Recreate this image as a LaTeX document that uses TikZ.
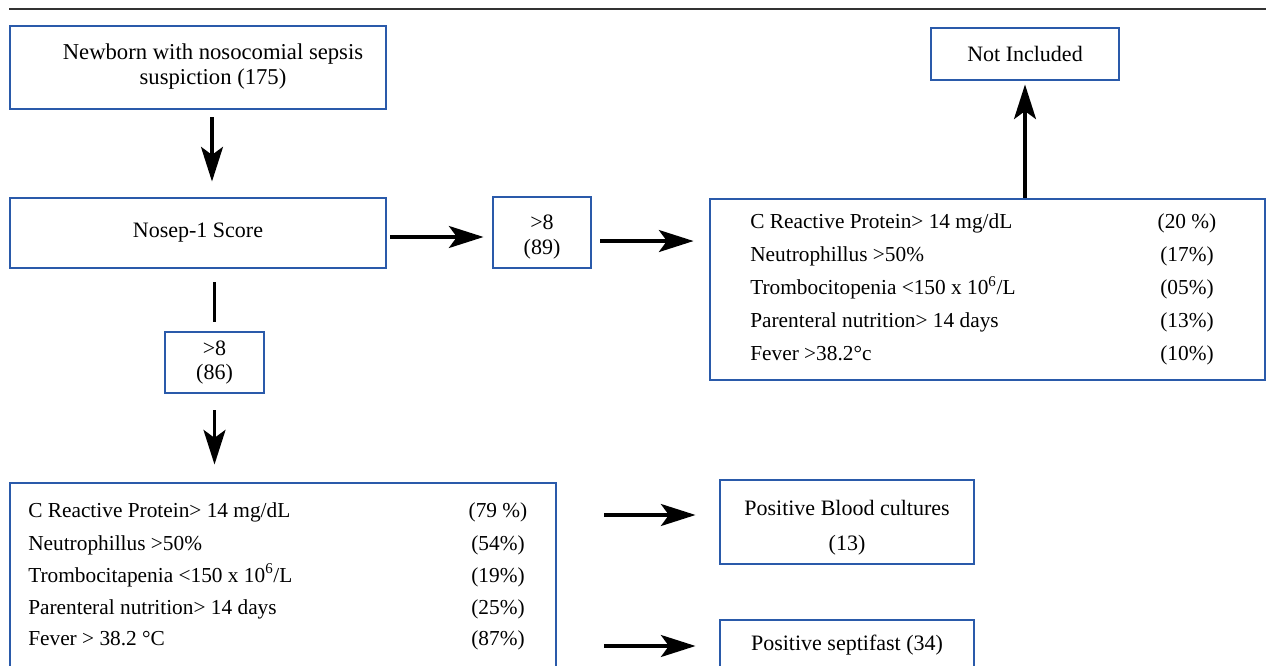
\documentclass[tikz,border=0pt]{standalone}
\usepackage{fontspec}
\setmainfont{Liberation Serif}
\usetikzlibrary{arrows.meta,calc}
\definecolor{boxblue}{RGB}{42,90,170}
\begin{document}
\begin{tikzpicture}[x=0.75pt, y=-0.75pt,
  box/.style={draw=boxblue, line width=2.2pt, inner sep=0pt, align=center,
    font=\fontsize{16.5}{18.5}\selectfont},
  row/.style={inner sep=0pt, font=\fontsize{16}{18}\selectfont},
  arr/.style={line width=2.3pt, -{Stealth[length=26pt, width=16.5pt, inset=6pt]}}]
  \useasboundingbox (0, 0) rectangle (1266, 666);
  \clip (0, 0) rectangle (1266, 666);
  \draw[line width=1pt, black!80] (9, 9) -- (1266, 9);
  % boxes
  \node[box, minimum width=282pt, minimum height=62.25pt] (suspect) at (198, 67.5) {};
  \node[box, draw=none, font=\fontsize{17}{18.75}\selectfont] (suspecttxt) at (213, 67) {Newborn with nosocomial sepsis\\suspiction (175)};
  \node[box, minimum width=282pt, minimum height=52.5pt] (score) at (198, 233) {Nosep-1 Score};
  \node[box, minimum width=73.5pt, minimum height=53.25pt] (hi89) at (542, 232.5) {\rule{0pt}{18pt}>8\\(89)};
  \node[box, minimum width=74.25pt, minimum height=45.75pt] (hi86) at (214.5, 362.5) {>8\\(86)};
  \node[box, minimum width=141pt, minimum height=39pt] (notinc) at (1025, 54) {Not Included};
  \node[box, minimum width=416.25pt, minimum height=135.75pt] (crit1) at (987.5, 289.5) {};
  \node[box, minimum width=409.5pt, minimum height=150pt] (crit2) at (283, 583) {};
  \node[box, minimum width=190.5pt, minimum height=63pt] (blood) at (847, 522) {\rule{0pt}{20pt}Positive Blood cultures\\[8pt](13)};
  \node[box, minimum width=190.5pt, minimum height=45pt] (septi) at (847, 650) {\rule[-11pt]{0pt}{11pt}Positive septifast (34)};
  % criteria, right box
  \foreach \lab/\val/\yy [count=\i] in {%
    {C Reactive Protein> 14 mg/dL}/{(20 \%)}/229,
    {Neutrophillus >50\%}/{(17\%)}/262,
    {Trombocitopenia <150 x 10\textsuperscript{6}/L}/{(05\%)}/295,
    {Parenteral nutrition> 14 days}/{(13\%)}/328,
    {Fever >38.2°c}/{(10\%)}/360} {
    \node[row, anchor=base west] (ra\i) at (750, \yy) {\lab};
    \node[row, anchor=base] (rb\i) at (1187, \yy) {\val};
  }
  % criteria, left box
  \foreach \lab/\val/\yy [count=\i] in {%
    {C Reactive Protein> 14 mg/dL}/{(79 \%)}/517,
    {Neutrophillus >50\%}/{(54\%)}/550,
    {Trombocitapenia <150 x 10\textsuperscript{6}/L}/{(19\%)}/582,
    {Parenteral nutrition> 14 days}/{(25\%)}/614,
    {Fever > 38.2 °C}/{(87\%)}/645} {
    \node[row, anchor=base west] (la\i) at (28, \yy) {\lab};
    \node[row, anchor=base] (lb\i) at (498, \yy) {\val};
  }
  % connectors
  \draw[arr, shorten <=5.25pt, shorten >=11.25pt] ($(suspect.south)+(14, 0)$) -- ($(score.north)+(14, 0)$);
  \draw[line width=2.3pt, shorten <=9.75pt, shorten >=6.75pt] (hi86.north |- score.south) -- (hi86.north);
  \draw[arr, shorten <=12pt, shorten >=12.75pt] (hi86.south) -- (hi86.south |- crit2.north);
  \draw[arr, shorten <=2.25pt, shorten >=6pt] ([yshift=-3pt]score.east) -- ([yshift=-3pt]score.east -| hi89.west);
  \draw[arr, shorten <=6pt, shorten >=11.25pt] ([yshift=-6.4pt]hi89.east) -- ([yshift=-6.4pt]hi89.east -| crit1.west);
  \draw[arr, shorten >=2.25pt] (notinc.south |- crit1.north) -- (notinc.south);
  \coordinate (bloodin) at ($(blood.west)+(0, -7)$);
  \coordinate (septiin) at ($(septi.west)+(0, -4)$);
  \draw[arr, shorten <=35.25pt, shorten >=17.25pt] (crit2.east |- bloodin) -- (bloodin);
  \draw[arr, shorten <=35.25pt, shorten >=17.25pt] (crit2.east |- septiin) -- (septiin);
\end{tikzpicture}
\end{document}
